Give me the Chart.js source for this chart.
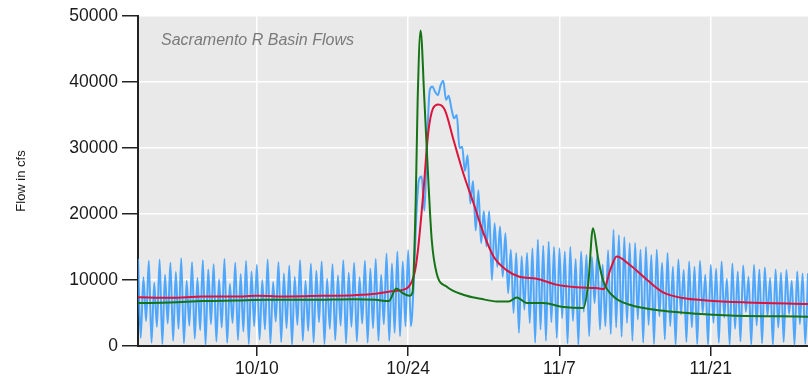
<!DOCTYPE html>
<html>
<head>
<meta charset="utf-8">
<script src="https://cdn.jsdelivr.net/npm/chart.js@4.4.1/dist/chart.umd.min.js"></script>
<style>
  html, body { margin: 0; padding: 0; background: #fff; }
  #wrap { width: 808px; height: 388px; }
</style>
</head>
<body>
<div id="wrap"><canvas id="myChart" width="808" height="388"></canvas></div>
<script>
// days counted from 9/29 (day 0) to 11/30 (day 62)
var chartTitle = 'Sacramento R Basin Flows';
var yTitle = 'Flow in cfs';
var tickDays = [11, 25, 39, 53];
var tickLabels = ['10/10', '10/24', '11/7', '11/21'];

// green series
var greenDays = [0, 3, 6, 9, 12, 16, 20, 22, 23.2, 23.9, 24.5, 25.15, 25.4, 25.7, 25.88, 26.15,
  26.5, 26.9, 27.18, 27.64, 28.55, 30.1, 31.7, 33.2, 34.3, 35.05, 36.0, 37.5, 39.4, 41.2,
  41.67, 42.1, 42.6, 43.07, 44.0, 45.5, 48.6, 51.7, 54.8, 62];
var greenFlow = [6500, 6600, 6800, 6900, 7000, 7000, 7100, 7000, 6800, 8700, 8000, 7600, 8100, 22100, 37300, 47800,
  37300, 24000, 16100, 11000, 9000, 7760, 7160, 6750, 6750, 7360, 6500, 6500, 5900, 5750,
  9530, 17850, 13060, 9770, 7500, 6250, 5340, 4890, 4630, 4450];

// red series
var redDays = [0, 3, 6, 9, 11, 14, 17, 20, 22, 23.3, 24.5, 25.0, 25.35, 25.65, 25.94, 26.4, 26.85,
  27.3, 27.8, 28.4, 29.2, 30.1, 31.05, 31.97, 32.9, 34.1, 35.3, 36.9, 38.7, 40.6, 42.4, 43.1,
  43.7, 44.3, 45.5, 47.1, 48.6, 50.4, 52.6, 56.3, 62];
var redFlow = [7400, 7300, 7500, 7500, 7600, 7500, 7600, 7700, 7900, 8260, 8500, 8900, 9800, 11500, 15070, 23150, 32200,
  36000, 36600, 35750, 31200, 26170, 21630, 17100, 13560, 11500, 10500, 10200, 9300, 8900, 8770, 8620,
  11540, 13560, 12300, 10030, 8110, 7260, 6900, 6600, 6350];

// blue series, one reading every 6 hours
var blueStepDays = 0.25;
var blueFlow = [
  13200, 1200, 10400, 3800,   // 9/29
  12900, 500, 9600, 2900,
  13100, 300, 10800, 3400,
  12600, 800, 11200, 2600,
  13300, 400, 9900, 3100,
  12700, 1100, 10300, 2400,   // 10/4
  13000, 200, 11600, 3300,
  12400, 700, 10100, 2800,
  13200, 500, 9400, 3500,
  12600, 900, 10900, 2200,
  12900, 300, 11300, 3000,
  12300, 1000, 10000, 2500,   // 10/10
  13100, 400, 9700, 3700,
  12700, 600, 11000, 2700,
  12200, 200, 10500, 3200,
  13000, 800, 9900, 2300,
  12500, 500, 11400, 3600,
  12800, 300, 10200, 2600,
  12400, 900, 10700, 3100,
  13000, 400, 11100, 2900,
  12600, 700, 10400, 3400,
  12900, 500, 11700, 2700,
  13200, 800, 10800, 3300,
  14000, 800, 12500, 2000,
  14300, 1500, 12800, 3000,
  14500, 3000, 9000, 19600,   // 10/24
  25200, 25700, 20500, 31000,
  38800, 39300, 38500, 38000,
  39500, 40200, 37300, 37900,
  36000, 34500, 35000, 30000,
  30200, 26500, 28900, 21600,
  25000, 17500, 23600, 15600,
  20400, 15100, 20400, 10000,
  18600, 12000, 18100, 10500,
  17100, 8000, 14600, 5000,
  14100, 2000, 13600, 5500,
  14100, 3500, 14800, 500,
  16100, 2500, 15200, 800,
  15800, 3600, 15000, 1200,
  14800, 4200, 14300, 400,    // 11/7
  15000, 3800, 13200, 200,
  14300, 5200, 13800, 1500,
  13500, 6500, 13800, 2500,
  12300, 3000, 14500, 1800,
  17600, 2800, 16800, 1400,
  16500, 3500, 15600, 800,
  15600, 4000, 14600, 500,
  15000, 3200, 13800, 300,
  14600, 4500, 12600, 1000,
  14100, 3000, 12000, 200,
  13100, 4800, 11500, 600,
  12800, 2800, 12000, 300,
  12900, 5000, 10800, 200,
  12300, 3500, 11700, 500,    // 11/21
  12800, 4300, 10200, 200,
  12500, 2600, 11300, 700,
  12200, 5200, 10500, 200,
  12300, 3100, 11600, 400,
  11900, 4600, 10300, 200,
  11600, 2800, 11100, 600,
  11500, 4900, 9900, 200,
  11300, 3300, 11000, 300,
  11000
];

function toPoints(xs, ys) {
  return ys.map(function(v, i) { return {x: xs[i], y: v}; });
}

var plotBg = {
  id: 'plotBg',
  beforeDraw: function(chart) {
    var a = chart.chartArea, ctx = chart.ctx;
    ctx.save();
    ctx.fillStyle = '#e9e9e9';
    ctx.fillRect(a.left, a.top, a.right - a.left, a.bottom - a.top);
    ctx.restore();
  },
  beforeDatasetsDraw: function(chart) {
    var a = chart.chartArea, ctx = chart.ctx;
    ctx.save();
    ctx.font = 'italic 16px "Liberation Sans", Arial, sans-serif';
    ctx.fillStyle = '#7a7a7a';
    ctx.textBaseline = 'alphabetic';
    ctx.fillText(chartTitle, a.left + 23, 45);
    ctx.restore();
  }
};

var font = {family: '"Liberation Sans", Arial, sans-serif', size: 17.5};

var ctx = document.getElementById('myChart');
var myChart = new Chart(ctx, {
  type: 'line',
  data: {
    datasets: [{
      label: 'green',
      data: toPoints(greenDays, greenFlow),
      borderColor: 'rgb(20,115,20)',
      borderWidth: 2,
      pointRadius: 0,
      cubicInterpolationMode: 'monotone'
    }, {
      label: 'red',
      data: toPoints(redDays, redFlow),
      borderColor: 'rgb(220,20,60)',
      borderWidth: 2,
      pointRadius: 0,
      cubicInterpolationMode: 'monotone'
    }, {
      label: 'blue',
      data: blueFlow.map(function(v, i) { return {x: i * blueStepDays, y: v}; }),
      borderColor: 'rgba(50,155,255,0.85)',
      borderWidth: 2,
      pointRadius: 0,
      cubicInterpolationMode: 'monotone'
    }]
  },
  options: {
    responsive: false,
    animation: false,
    devicePixelRatio: 1,
    layout: {padding: {top: 16, right: 0, bottom: 0, left: 0}},
    plugins: {legend: {display: false}, tooltip: {enabled: false}},
    scales: {
      x: {
        type: 'linear',
        min: 0,
        max: 62,
        afterBuildTicks: function(scale) {
          scale.ticks = tickDays.map(function(d) { return {value: d}; });
        },
        afterFit: function(scale) { scale.height = 42; },
        ticks: {
          font: font,
          color: '#1a1a1a',
          padding: 3,
          maxRotation: 0,
          callback: function(v, i) { return tickLabels[i]; }
        },
        grid: {color: '#ffffff', lineWidth: 1.5, tickColor: '#222', tickLength: 10},
        border: {color: '#222', width: 2}
      },
      y: {
        min: 0,
        max: 50000,
        afterFit: function(scale) { scale.width = 138; },
        ticks: {
          stepSize: 10000,
          font: font,
          color: '#1a1a1a',
          padding: 4,
          callback: function(v) { return String(v); }
        },
        grid: {color: '#ffffff', lineWidth: 1.5, tickColor: '#222', tickLength: 16},
        border: {color: '#222', width: 2},
        title: {
          display: true,
          text: yTitle,
          font: {family: '"Liberation Sans", Arial, sans-serif', size: 13},
          color: '#1a1a1a',
          padding: {top: 14, bottom: 0}
        }
      }
    }
  },
  plugins: [plotBg]
});
</script>
</body>
</html>
